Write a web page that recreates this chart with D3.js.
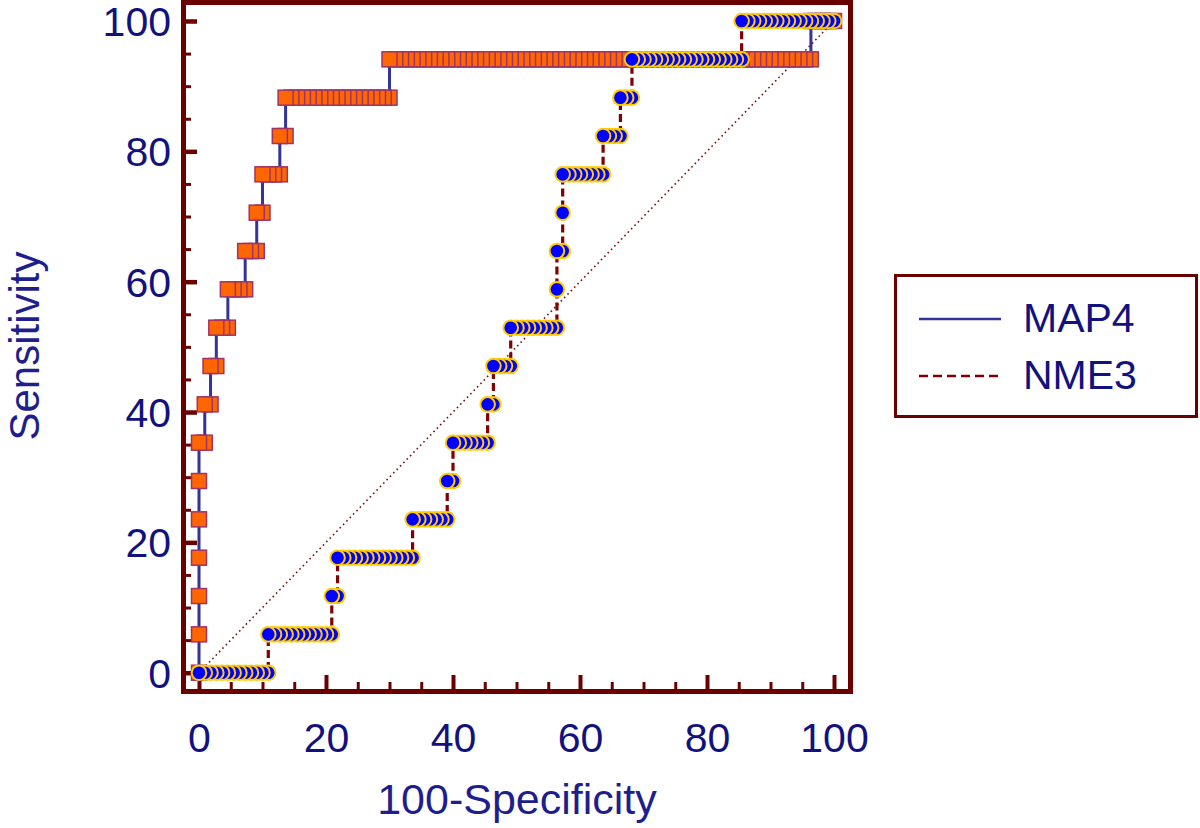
<!DOCTYPE html>
<html>
<head>
<meta charset="utf-8">
<script src="https://cdn.jsdelivr.net/npm/d3@7"></script>
<style>
  html, body { margin: 0; padding: 0; background: #ffffff; }
  svg { display: block; }
  text { font-family: "Liberation Sans", Arial, sans-serif; }
</style>
</head>
<body>
<svg id="chart" width="1200" height="828"></svg>
<script>
// ---- data (ROC step curves: counts of false positives per sensitivity level) ----
const negatives = 110;          // number of negative cases (x steps)
const positives = 17;           // number of positive cases (y steps)
const levels = [0,1,2,3,4,5,6,7,8,9,10,11,12,13,14,15,16,17];
// MAP4: for each sensitivity level, first and last false-positive count of the run
const map4From = [0,0,0,0,0,0,0,1,2,3,5,8,10,11,14,15,33,106];
const map4To   = [0,0,0,0,0,0,1,2,3,5,8,10,11,14,15,33,106,110];
// NME3
const nme3From = [0,12,23,24,37,43,44,50,51,54,62,62,63,63,70,73,75,94];
const nme3To   = [12,23,24,37,43,44,50,51,54,62,62,63,63,70,73,75,94,110];

const majorTicks = [0,20,40,60,80,100];
const minorTicks = [5,10,15,25,30,35,45,50,55,65,70,75,85,90,95];
const seriesNames = ["MAP4", "NME3"];
const xTitle = "100-Specificity";
const yTitle = "Sensitivity";

// ---- build point lists: one marker per false-positive count within each run ----
function buildPoints(from, to) {
  const pts = [];
  levels.forEach((k, idx) => {
    for (let i = from[idx]; i <= to[idx]; i++) {
      pts.push({ x: i / negatives * 100, y: k / positives * 100 });
    }
  });
  return pts;
}
const map4Pts = buildPoints(map4From, map4To);
const nme3Pts = buildPoints(nme3From, nme3To);

// ---- layout ----
const svg = d3.select("#chart");
const x = d3.scaleLinear().domain([0, 100]).range([199, 834]);
const y = d3.scaleLinear().domain([0, 100]).range([672.7, 21]);

const frameColor = "#6a0000";
const textColor = "#12127e";

// frame
svg.append("rect")
  .attr("x", 183.5).attr("y", 2.5)
  .attr("width", 850.5 - 183.5).attr("height", 691.5 - 2.5)
  .attr("fill", "none").attr("stroke", frameColor).attr("stroke-width", 5);

// ticks (inward)
function tickAxis(axis, tf, size, width) {
  const g = svg.append("g").attr("transform", tf).call(axis.tickSize(size).tickFormat(""));
  g.select(".domain").remove();
  g.selectAll(".tick line").attr("stroke", frameColor).attr("stroke-width", width);
  return g;
}
tickAxis(d3.axisTop(x).tickValues(majorTicks), "translate(0,689)", 14, 4);
tickAxis(d3.axisTop(x).tickValues(minorTicks), "translate(0,689)", 7, 3);
tickAxis(d3.axisRight(y).tickValues(majorTicks), "translate(186,0)", 11, 4.5);
tickAxis(d3.axisRight(y).tickValues(minorTicks), "translate(186,0)", 5, 3);

// tick labels
const xLab = svg.append("g").attr("transform", "translate(0,752)")
  .call(d3.axisBottom(x).tickValues(majorTicks).tickSize(0).tickPadding(0).tickFormat(d3.format("d")));
xLab.select(".domain").remove();
xLab.selectAll("text").attr("y", 0).attr("dy", 0)
  .attr("font-size", 41).attr("fill", textColor)
  .attr("font-family", "Liberation Sans, Arial, sans-serif");

const yLab = svg.append("g").attr("transform", "translate(171,0)")
  .call(d3.axisLeft(y).tickValues(majorTicks).tickSize(0).tickPadding(0).tickFormat(d3.format("d")));
yLab.select(".domain").remove();
yLab.selectAll("text").attr("x", 0).attr("dy", 14.5)
  .attr("font-size", 41).attr("fill", textColor)
  .attr("font-family", "Liberation Sans, Arial, sans-serif");

// axis titles
svg.append("text").attr("x", 517).attr("y", 814).attr("text-anchor", "middle")
  .attr("font-size", 43).attr("fill", "#1e1e8c").text(xTitle);
svg.append("text").attr("transform", "translate(39,346) rotate(-90)").attr("text-anchor", "middle")
  .attr("font-size", 42).attr("fill", "#1e1e8c").text(yTitle);

// diagonal reference line
svg.append("line")
  .attr("x1", x(0)).attr("y1", y(0)).attr("x2", x(100)).attr("y2", y(100))
  .attr("stroke", "#7a1010").attr("stroke-width", 1.6).attr("stroke-dasharray", "1.6,3.2");

const line = d3.line().x(d => x(d.x)).y(d => y(d.y));

// MAP4 line + square markers
svg.append("path").datum(map4Pts).attr("d", line)
  .attr("fill", "none").attr("stroke", "#333399").attr("stroke-width", 3);
const sq = 15;
svg.append("g").selectAll("rect").data(map4Pts.slice().reverse()).join("rect")
  .attr("x", d => x(d.x) - sq / 2).attr("y", d => y(d.y) - sq / 2)
  .attr("width", sq).attr("height", sq)
  .attr("fill", "#ff6600").attr("stroke", "#a03366").attr("stroke-width", 1.5);

// NME3 line + circle markers
svg.append("path").datum(nme3Pts).attr("d", line)
  .attr("fill", "none").attr("stroke", "#7f0000").attr("stroke-width", 3.2)
  .attr("stroke-dasharray", "8,4");
svg.append("g").selectAll("circle").data(nme3Pts.slice().reverse()).join("circle")
  .attr("cx", d => x(d.x)).attr("cy", d => y(d.y)).attr("r", 7.3)
  .attr("fill", "#0000ff").attr("stroke", "#ffcc00").attr("stroke-width", 2);

// legend
const lg = svg.append("g");
lg.append("rect").attr("x", 895.5).attr("y", 275.5).attr("width", 301).attr("height", 141)
  .attr("fill", "#ffffff").attr("stroke", frameColor).attr("stroke-width", 3);
lg.append("line").attr("x1", 919).attr("x2", 1001).attr("y1", 319).attr("y2", 319)
  .attr("stroke", "#333399").attr("stroke-width", 2.5);
lg.append("line").attr("x1", 919).attr("x2", 1001).attr("y1", 376).attr("y2", 376)
  .attr("stroke", "#7f0000").attr("stroke-width", 2.5).attr("stroke-dasharray", "9,5");
lg.append("text").attr("x", 1023).attr("y", 332).attr("font-size", 41).attr("fill", textColor).text(seriesNames[0]);
lg.append("text").attr("x", 1023).attr("y", 388.5).attr("font-size", 41).attr("fill", textColor).text(seriesNames[1]);
</script>
</body>
</html>
